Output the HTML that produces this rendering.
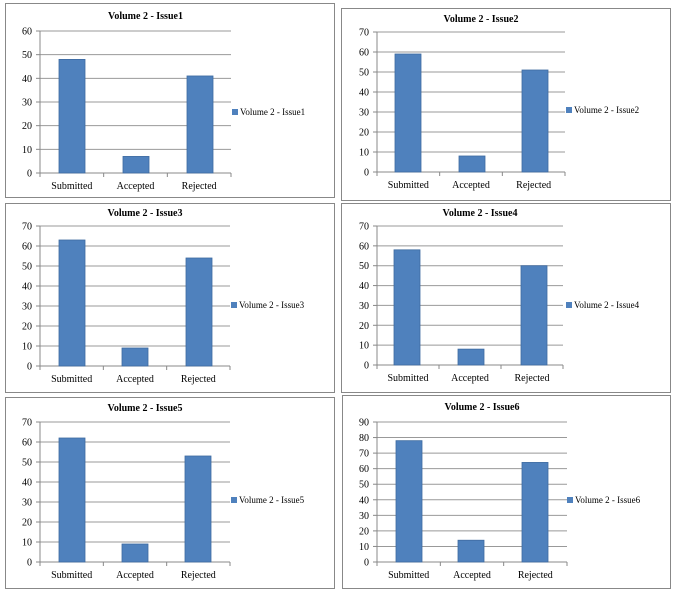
<!DOCTYPE html>
<html><head><meta charset="utf-8"><style>
html,body{margin:0;padding:0;background:#fff;}
svg{display:block;font-family:"Liberation Serif",serif;}
</style></head><body>
<svg id="s" width="674" height="592" viewBox="0 0 674 592" xmlns="http://www.w3.org/2000/svg"></svg>
<script>
var P=[
 {bx:5,by:3,bw:329,bh:194,t:"Volume 2 - Issue1",ty:19,x0:40,x1:231,y0:173,yt:31,max:60,step:10,vals:[48,7,41],bars:[59,123,187],lx:232,ly:112},
 {bx:341,by:8,bw:329,bh:192,t:"Volume 2 - Issue2",ty:22,x0:377,x1:565,y0:172,yt:32,max:70,step:10,vals:[59,8,51],bars:[395,459,522],lx:566,ly:110},
 {bx:5,by:203,bw:329,bh:189,t:"Volume 2 - Issue3",ty:216,x0:40,x1:230,y0:366,yt:226,max:70,step:10,vals:[63,9,54],bars:[59,122,186],lx:231,ly:305},
 {bx:341,by:203,bw:329,bh:189,t:"Volume 2 - Issue4",ty:216,x0:377,x1:563,y0:365,yt:226,max:70,step:10,vals:[58,8,50],bars:[394,458,521],lx:566,ly:305},
 {bx:5,by:397,bw:329,bh:191,t:"Volume 2 - Issue5",ty:411,x0:40,x1:230,y0:562,yt:422,max:70,step:10,vals:[62,9,53],bars:[59,122,185],lx:231,ly:500},
 {bx:342,by:395,bw:328,bh:193,t:"Volume 2 - Issue6",ty:410,x0:377,x1:567,y0:562,yt:422,max:90,step:10,vals:[78,14,64],bars:[396,458,522],lx:567,ly:500}
];
var h='';
var cats=["Submitted","Accepted","Rejected"];
P.forEach(function(p){
 h+='<rect x="'+(p.bx+.5)+'" y="'+(p.by+.5)+'" width="'+p.bw+'" height="'+p.bh+'" fill="#fff" stroke="#888" stroke-width="1"/>';
 h+='<text x="'+((p.x0+p.x1)/2+10)+'" y="'+p.ty+'" font-size="10" font-weight="bold" text-anchor="middle" fill="#000">'+p.t+'</text>';
 var n=p.max/p.step;
 for(var i=0;i<=n;i++){
  var y=p.y0-(p.y0-p.yt)*i/n;
  if(i>0)h+='<line x1="'+p.x0+'" x2="'+p.x1+'" y1="'+y+'" y2="'+y+'" stroke="#999" stroke-width="1"/>';
  h+='<line x1="'+(p.x0-4)+'" x2="'+p.x0+'" y1="'+y+'" y2="'+y+'" stroke="#888"/>';
  h+='<text x="'+(p.x0-8)+'" y="'+(y+3.5)+'" font-size="10" text-anchor="end" fill="#000">'+(i*p.step)+'</text>';
 }
 h+='<line x1="'+p.x0+'" x2="'+p.x0+'" y1="'+p.yt+'" y2="'+p.y0+'" stroke="#888"/>';
 h+='<line x1="'+p.x0+'" x2="'+p.x1+'" y1="'+p.y0+'" y2="'+p.y0+'" stroke="#888"/>';
 var cw=(p.x1-p.x0)/3;
 for(var k=0;k<=3;k++){var x=p.x0+cw*k;h+='<line x1="'+x+'" x2="'+x+'" y1="'+p.y0+'" y2="'+(p.y0+4)+'" stroke="#888"/>';}
 p.vals.forEach(function(v,k){
  var top=p.y0-(p.y0-p.yt)*v/p.max;
  h+='<rect x="'+p.bars[k]+'" y="'+top+'" width="26" height="'+(p.y0-top)+'" fill="#4f81bd" stroke="#3d6aa0" stroke-width="0.8"/>';
  h+='<text x="'+(p.x0+cw*(k+.5))+'" y="'+(p.y0+16)+'" font-size="10" text-anchor="middle" fill="#000">'+cats[k]+'</text>';
 });
 h+='<rect x="'+p.lx+'" y="'+(p.ly-3)+'" width="6" height="6" fill="#4f81bd"/>';
 h+='<text x="'+(p.lx+8)+'" y="'+(p.ly+3)+'" font-size="9" fill="#000">'+p.t+'</text>';
});
document.getElementById('s').innerHTML=h;
</script>
</body></html>
